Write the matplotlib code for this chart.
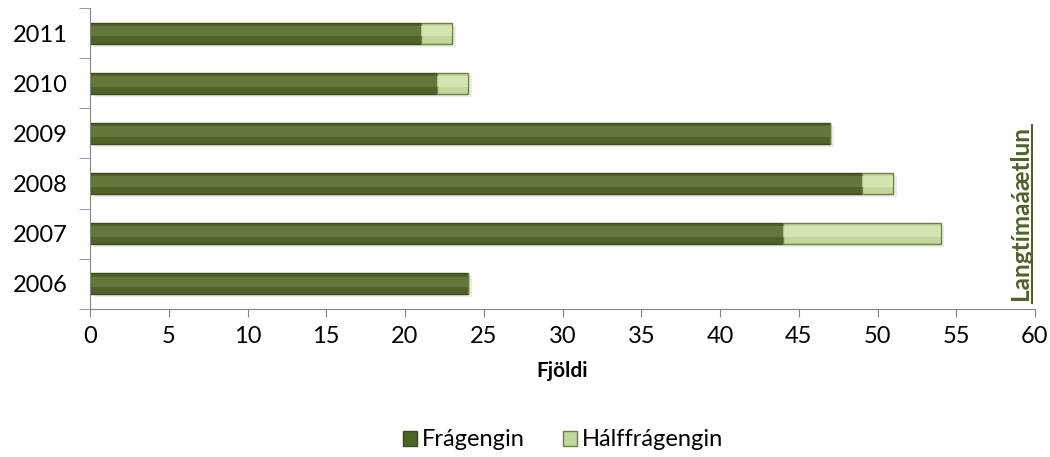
import matplotlib.pyplot as plt
import numpy as np

years = ['2006', '2007', '2008', '2009', '2010', '2011']
fragengin = [24, 44, 49, 47, 22, 21]
halffragengin = [0, 10, 2, 0, 2, 2]
xticks = list(range(0, 61, 5))

plt.rcParams['font.family'] = ['Lato', 'DejaVu Sans']

fig = plt.figure(figsize=(10.5, 4.57), dpi=100)
ax = fig.add_axes([90 / 1050, 1 - 309 / 457, 945 / 1050, 301 / 457])

y = np.arange(len(years))
h = 0.42
dark = '#4F6228'
light = '#C3D69B'

# skuggi undir súlunum
tot = np.array(fragengin) + np.array(halffragengin)
ax.barh(y - 0.06, tot, height=h, left=0.25, color='#000000', alpha=0.08, zorder=1)

b1 = ax.barh(y, fragengin, height=h, color=dark, edgecolor='#3A4A1C', linewidth=1, zorder=2)
b2 = ax.barh(y, halffragengin, height=h, left=fragengin, color=light,
             edgecolor='#6E8240', linewidth=1, zorder=2)

# glampi (bevel)
ax.barh(y + 0.04, fragengin, height=h * 0.5, color='#7A8F4E', alpha=0.5, linewidth=0, zorder=3)
ax.barh(y + 0.04, halffragengin, height=h * 0.5, left=fragengin, color='#E4EFC6',
        alpha=0.6, linewidth=0, zorder=3)

ax.set_xlim(0, 60)
ax.set_ylim(-0.5, 5.5)
ax.set_xticks(xticks)
ax.set_xticklabels([str(t) for t in xticks], fontsize=17)
ax.set_yticks(y)
ax.set_yticklabels(years, fontsize=17)
ax.set_yticks(np.arange(-0.5, 6, 1), minor=True)
ax.tick_params(axis='y', which='major', length=0, pad=16)
ax.tick_params(axis='y', which='minor', length=8, color='#868686', direction='out')
ax.tick_params(axis='x', length=6, color='#868686', direction='out', pad=6)

for s in ['top', 'right']:
    ax.spines[s].set_visible(False)
for s in ['left', 'bottom']:
    ax.spines[s].set_color('#868686')

ax.set_xlabel('Fjöldi', fontsize=15, fontweight='bold', labelpad=10)

ax.text(1020 / 1050, 1 - 213 / 457, 'Langtímaáætlun', transform=fig.transFigure,
        rotation=90, ha='center', va='center', fontsize=17.5, fontweight='bold', color=dark)
fig.add_artist(plt.Line2D([1032 / 1050, 1032 / 1050], [1 - 303 / 457, 1 - 125 / 457],
                          color=dark, linewidth=1.5))

fig.legend([b1, b2], ['Frágengin', 'Hálffrágengin'], loc='center', bbox_to_anchor=(0.536, 1 - 440 / 457),
           ncol=2, frameon=False, fontsize=17, handlelength=0.6, handleheight=0.6,
           handletextpad=0.2, columnspacing=1.6)

fig.savefig('out.png', dpi=100)
